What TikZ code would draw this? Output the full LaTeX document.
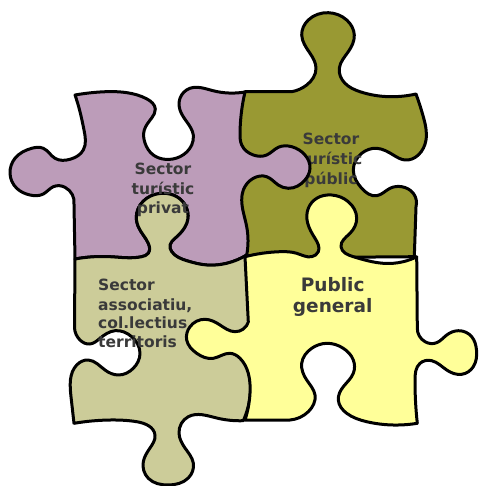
\documentclass[tikz,border=0pt]{standalone}
\usepackage{fontspec}
\usetikzlibrary{hobby}
\setmainfont{DejaVu Sans}
\definecolor{cpurple}{HTML}{BC9CB9}
\definecolor{colive}{HTML}{999933}
\definecolor{ckhaki}{HTML}{CCCC99}
\definecolor{cyellow}{HTML}{FFFF99}
\definecolor{ctext}{HTML}{3A3A3A}
\tikzset{
  piece/.style={draw=black,line width=3pt,line join=round,use Hobby shortcut},
  lab/.style={anchor=base,inner sep=0pt,text=ctext,font=\fontsize{15.5}{18}\selectfont\bfseries},
  labl/.style={lab,anchor=base west},
  labbig/.style={lab,font=\fontsize{18.5}{22}\selectfont\bfseries}
}
\begin{document}
\begin{tikzpicture}[x=1pt,y=-1pt]
\useasboundingbox (0,0) rectangle (478,486);
% olive piece
\path[piece,fill=colive]
 (245,91.7) -- (291.7,91.7) .. (306.7,85) .. (316,68.3) .. (310,53.3) .. (301.7,35) .. (308.3,20) .. (328.3,12.7) .. (346.7,20) .. (354.3,35) .. (348.3,51.7) .. (339.3,68.3) .. (345,83.3) .. (360,91.7) .. (390,96.7) .. (416,94)
 -- (416,94) .. (423.3,116.7) .. (426,140) .. (418.3,155) .. (405,160) .. (393.3,155) .. (376.7,148.3) .. (361.7,153.3) .. (353.3,170) .. (361.7,188.3) .. (376.7,195.7) .. (390,188.3) .. (401.7,186.7) .. (413.3,193.3) .. (416,206.7) -- (414.3,256.7)
 -- (246,258) -- (232,230) -- (232,120) -- cycle;
\node[lab] (oa) at (331,145) {Sector};
\node[lab] (ob) at (331,165) {turístic};
\node[lab] (oc) at (331,184) {públic};
% purple piece
\path[piece,fill=cpurple]
 (75,95) .. (100,92) .. (127,92.7) .. (147,99) .. (155.3,109) .. (151.7,118) .. (144.3,130) .. (145,143) .. (153.3,155) .. (165,159.3) .. (180,156.7) .. (191.7,145) .. (193.3,135) .. (186.7,121.7) .. (180,110) .. (180,98.3) .. (190,88.3) .. (213,90.7) .. (245,92)
 -- (245,92) .. (240,133) .. (241.7,145) .. (253.3,155) .. (266.7,155) .. (278.3,147.3) .. (291.7,146.7) .. (305,155) .. (310,168.3) .. (305,180) .. (288.3,188.3) .. (278.3,185) .. (266.7,176.7) .. (253.3,178.3) .. (243.3,190) .. (241.7,200) .. (246.7,226.7) .. (246.7,255)
 -- (246.7,255) .. (226.7,263.3) .. (206.7,265) .. (186.7,260.7) .. (171.7,251.7) .. (170,245) .. (175,238.3) .. (186.7,223.3) .. (186.7,208.3) .. (176.7,196.7) .. (163.3,193.3) .. (146.7,198.3) .. (136.7,213.3) .. (138.3,226.7) .. (148.3,243.3) .. (148.3,253.3) .. (141.7,256.7) .. (110,256.7) .. (75,259)
 -- (75,259) -- (74,205) .. (65,187.3) .. (53.3,186.7) .. (43.3,194) .. (30,195) .. (16.7,188.3) .. (10,173.3) .. (15,158.3) .. (31.7,148.3) .. (43.3,148.3) .. (55,158.3) .. (70,159.3) .. (83.3,150) .. (84,130) .. (80,111.7) .. (75,95)
 -- cycle;
% khaki piece
\path[piece,fill=ckhaki]
 (246.7,255) .. (226.7,263.3) .. (206.7,265) .. (186.7,260.7) .. (171.7,251.7) .. (170,245) .. (175,238.3) .. (186.7,223.3) .. (186.7,208.3) .. (176.7,196.7) .. (163.3,193.3) .. (146.7,198.3) .. (136.7,213.3) .. (138.3,226.7) .. (148.3,243.3) .. (148.3,253.3) .. (141.7,256.7) .. (110,256.7) .. (75,259)
 -- (75,259) -- (74.5,328) .. (80,340) .. (90,344) .. (100,338.3) .. (115,330.7) .. (131.7,336.7) .. (140,353.3) .. (133.3,368.3) .. (118.3,375) .. (105,370) .. (88.3,360) .. (76.7,365) .. (71,396.7) .. (74,423.3)
 -- (74,423.3) .. (110,420) .. (136.7,421.7) .. (155,435) .. (150,448) .. (143.3,461.7) .. (148.3,478.3) .. (168.3,485) .. (188.3,478) .. (193.3,463) .. (185,448) .. (179,433) .. (188.3,416.7) .. (216.7,418) .. (243.3,420.7)
 -- (243.3,420.7) .. (250,396.7) .. (250,376)
 -- (258,360) -- (258,262) -- cycle;
\node[lab] (pa) at (163,175) {Sector};
\node[lab] (pb) at (163,194) {turístic};
\node[lab] (pc) at (163,213) {privat};
\node[labl] (ka) at (98,290.7) {Sector};
\node[labl] (kb) at (98,310) {associatiu,};
\node[labl] (kc) at (98,328) {col.lectius};
\node[labl] (kd) at (98,347.7) {territoris};
% yellow piece
\path[piece,fill=cyellow]
 (245,256.7) .. (280,251.7) .. (296.7,253.3) .. (311.7,256.7) .. (318.3,251.7) .. (315,238.3) .. (307.7,223.3) .. (308.3,208.3) .. (316.7,198.3) .. (331.7,195) .. (348.3,201.7) .. (356.7,218.3) .. (350,233.3) .. (341,246.7) .. (353.3,256.7) .. (383.3,263.3) .. (403.3,261.7) .. (416.7,256.7)
 -- (416.7,256.7) -- (417.3,328) .. (425,341.7) .. (436.7,342.7) .. (446.7,335) .. (458.3,330.7) .. (471.7,336.7) .. (476.5,350) .. (473.3,366.7) .. (461.7,374.3) .. (446.7,370) .. (431.7,360.7) .. (420,363.3) .. (415,380) .. (417.3,423.3)
 -- (417.3,423.3) .. (393.3,425) .. (366.7,421.7) .. (346.7,413.3) .. (338.3,400) .. (343.3,386.7) .. (353.3,373.3) .. (353.3,360) .. (343.3,348.3) .. (326.7,343.3) .. (311.7,348.3) .. (301.7,363.3) .. (306.7,380) .. (315,395) .. (308.3,411.7) .. (290,420) -- (245,420)
 -- (245,420) .. (250,393.3) .. (248.3,373.3) .. (240,358.3) .. (230,353.3) .. (213.3,358.3) .. (196.7,353.3) .. (186.7,340) .. (190,326.7) .. (205,319.3) .. (220,325) .. (235,331.7) .. (248.3,322) -- (245,256.7)
 -- cycle;
\node[labbig] (ya) at (332.7,291) {Public};
\node[labbig] (yb) at (332.7,312) {general};
\end{tikzpicture}
\end{document}
